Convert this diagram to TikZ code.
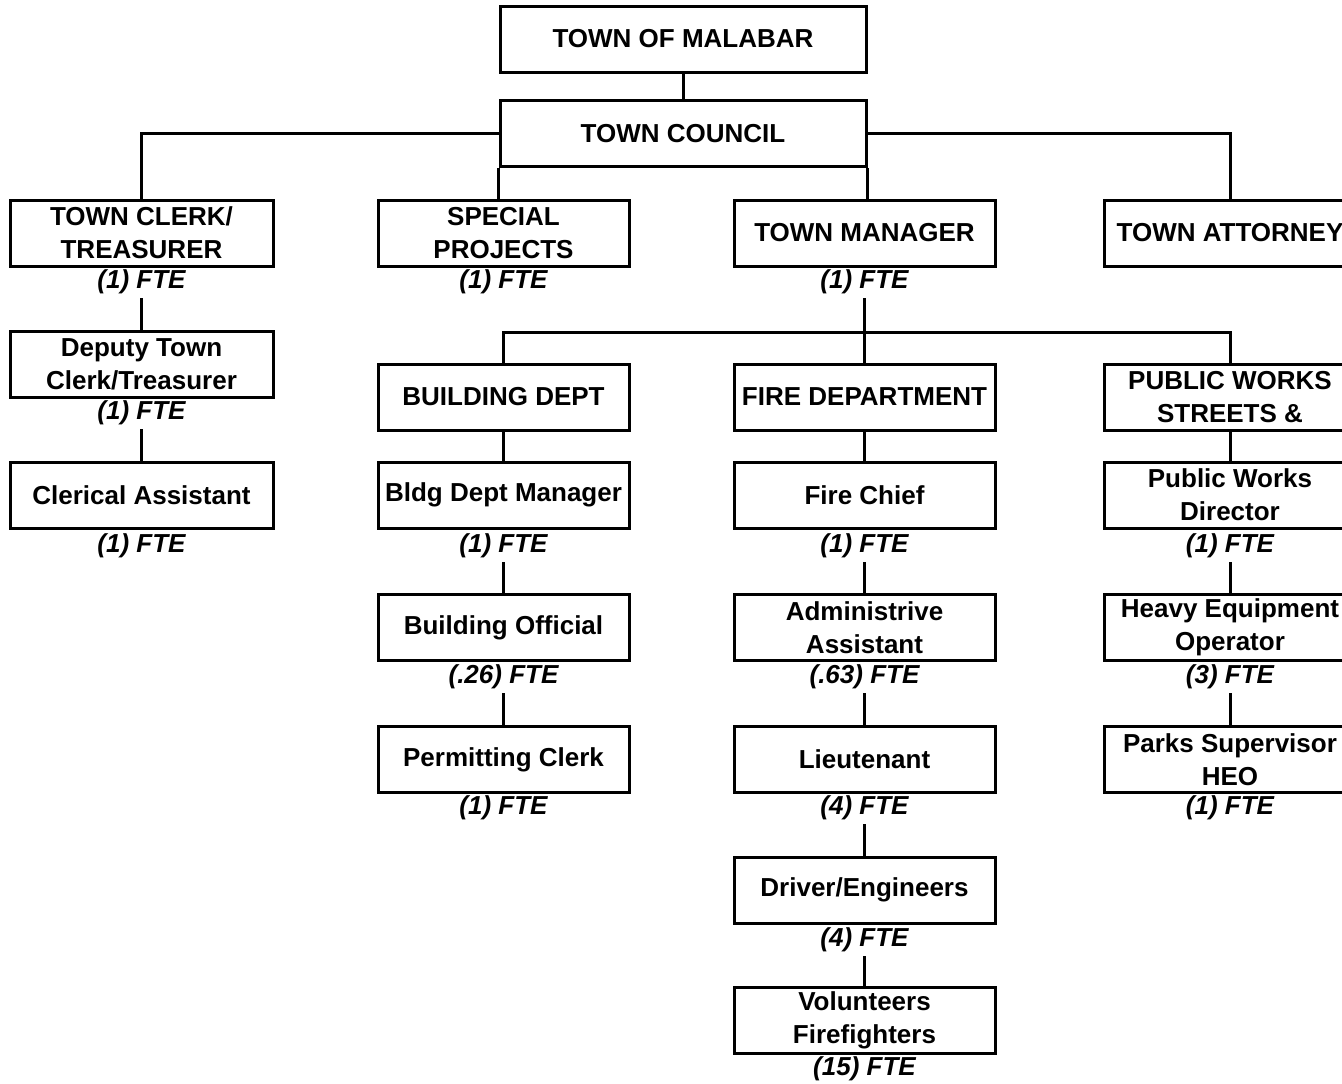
\documentclass[tikz,border=0pt]{standalone}
\usepackage{fontspec}
\setmainfont{Liberation Sans}
\begin{document}
\begin{tikzpicture}[x=1pt,y=-1pt,
  box/.style={draw,line width=3pt,inner sep=0pt,minimum height=66pt,align=center,
    font=\bfseries\fontsize{26}{33}\selectfont},
  fte/.style={inner sep=0pt,minimum height=32pt,font=\bfseries\itshape\fontsize{26}{33}\selectfont},
  link/.style={line width=3pt}]
\useasboundingbox (0,0) rectangle (1342,1084);
\clip (0,0) rectangle (1342,1084);

% Top of the chart
\node[box,minimum width=366pt] (malabar) at (683,39) {TOWN OF MALABAR};
\node[box,minimum width=366pt] (council) at (683,133.5) {TOWN COUNCIL};

% First level
\node[box,minimum width=263pt] (clerk) at (141.5,233) {TOWN CLERK/\\TREASURER};
\node[fte] (clerkfte) at (141.5,282) {(1) FTE};
\node[box,minimum width=251pt] (spec) at (503.5,233) {SPECIAL\\PROJECTS};
\node[fte] (specfte) at (503.5,282) {(1) FTE};
\node[box,minimum width=261pt] (mgr) at (864.5,233) {TOWN MANAGER};
\node[fte] (mgrfte) at (864.5,282) {(1) FTE};
\node[box,minimum width=252pt] (atty) at (1230,233) {TOWN ATTORNEY};

% Clerk column
\node[box,minimum width=263pt] (deputy) at (141.5,364.5) {Deputy Town\\Clerk/Treasurer};
\node[fte] (deputyfte) at (141.5,413) {(1) FTE};
\node[box,minimum width=263pt] (clerical) at (141.5,495.5) {Clerical Assistant};
\node[fte] (clericalfte) at (141.5,546) {(1) FTE};

% Building department
\node[box,minimum width=251pt] (bdept) at (503.5,397) {BUILDING DEPT};
\node[box,minimum width=251pt] (bmgr) at (503.5,495) {Bldg Dept Manager};
\node[fte] (bmgrfte) at (503.5,546) {(1) FTE};
\node[box,minimum width=251pt] (bofficial) at (503.5,627.5) {Building Official};
\node[fte] (bofficialfte) at (503.5,677) {(.26) FTE};
\node[box,minimum width=251pt] (permit) at (503.5,759.5) {Permitting Clerk};
\node[fte] (permitfte) at (503.5,808) {(1) FTE};

% Fire department
\node[box,minimum width=261pt] (fire) at (864.5,397) {FIRE DEPARTMENT};
\node[box,minimum width=261pt] (chief) at (864.5,495) {Fire Chief};
\node[fte] (chieffte) at (864.5,546) {(1) FTE};
\node[box,minimum width=261pt] (admin) at (864.5,627.5) {Administrive\\Assistant};
\node[fte] (adminfte) at (864.5,677) {(.63) FTE};
\node[box,minimum width=261pt] (lieut) at (864.5,759.5) {Lieutenant};
\node[fte] (lieutfte) at (864.5,808) {(4) FTE};
\node[box,minimum width=261pt] (driver) at (864.5,890) {Driver/Engineers};
\node[fte] (driverfte) at (864.5,940) {(4) FTE};
\node[box,minimum width=261pt] (volunteer) at (864.5,1020) {Volunteers\\Firefighters};
\node[fte] (volunteerfte) at (864.5,1069) {(15) FTE};

% Public works
\node[box,minimum width=252pt] (pworks) at (1230,397) {PUBLIC WORKS\\STREETS \&};
\node[box,minimum width=252pt] (pwdir) at (1230,495) {Public Works\\Director};
\node[fte] (pwdirfte) at (1230,546) {(1) FTE};
\node[box,minimum width=252pt] (heavy) at (1230,627.5) {Heavy Equipment\\Operator};
\node[fte] (heavyfte) at (1230,677) {(3) FTE};
\node[box,minimum width=252pt] (parks) at (1230,759.5) {Parks Supervisor\\HEO};
\node[fte] (parksfte) at (1230,808) {(1) FTE};

% Connectors
\draw[link] (malabar) -- (council);
\draw[link] (clerk.north) |- (council.west);
\draw[link] (atty.north) |- (council.east);
\draw[link] (council.south west) -- (council.south west |- spec.north);
\draw[link] (council.south east) -- (council.south east |- mgr.north);
\coordinate (split) at (864.5,332);
\draw[link] (mgrfte) -- (split);
\draw[link] (bdept.north) |- (split) -| (pworks.north);
\draw[link] (split) -- (fire);
\foreach \a/\b in {clerkfte/deputy, deputyfte/clerical,
    bdept/bmgr, bmgrfte/bofficial, bofficialfte/permit,
    fire/chief, chieffte/admin, adminfte/lieut, lieutfte/driver, driverfte/volunteer,
    pworks/pwdir, pwdirfte/heavy, heavyfte/parks}
  \draw[link] (\a) -- (\b);
\end{tikzpicture}
\end{document}
